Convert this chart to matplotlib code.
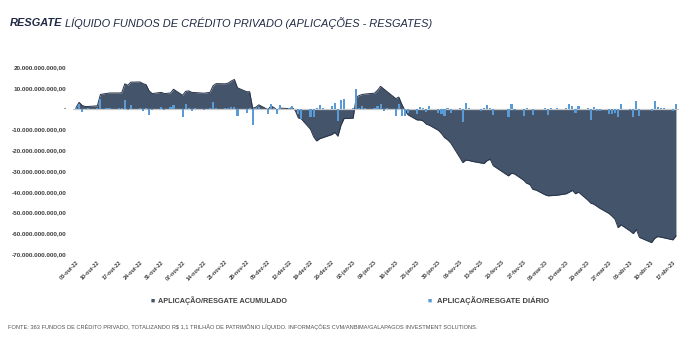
import numpy as np
import pandas as pd
import matplotlib
matplotlib.use("Agg")
import matplotlib.pyplot as plt
import matplotlib.dates as mdates
from matplotlib.ticker import FuncFormatter, MultipleLocator

# ---------------- data (values in billions of R$) ----------------
holidays = ["2022-10-12", "2022-11-02", "2022-11-15", "2023-02-20", "2023-02-21", "2023-04-07"]
dates = pd.bdate_range("2022-10-03", "2023-04-18")
dates = dates[~dates.isin(pd.to_datetime(holidays))]

cumulative_bn = [
    0.5, 3.0, 1.5, 1.0, 1.0,
    1.3, 6.8, 7.3, 7.5,
    7.5, 7.6, 11.9, 11.2, 12.7,
    12.8, 12.0, 11.5, 8.5, 7.2,
    7.8, 7.2, 7.5, 9.3,
    6.4, 8.3, 8.5, 7.8, 7.7,
    7.4, 7.8, 11.0, 12.0,
    11.9, 12.3, 13.3, 14.0, 10.0,
    8.1, 8.1, 0.2, 0.6, 1.8,
    -0.5, 1.2, 0.5, -0.8, 0.2,
    0.0, 0.5, -1.0, -4.5, -5.0,
    -10.0, -13.5, -15.6, -14.5, -14.0,
    -12.5, -11.5, -13.3, -8.0, -4.8,
    -4.6, 5.5, 6.3, 6.8, 7.0,
    7.4, 8.8, 10.7, 9.5, 8.3,
    4.8, 5.5, 2.0, -1.0, -3.0,
    -5.5, -5.5, -6.0, -7.5, -8.0,
    -10.5, -12.0, -14.0, -15.0, -16.5,
    -23.5, -26.0, -24.8, -25.0, -25.4,
    -26.2, -26.4, -25.0, -24.4, -27.5,
    -32.4, -31.1, -31.5,
    -34.5, -36.0, -36.5, -38.9, -39.2,
    -41.5, -42.0, -41.9, -41.8, -41.7,
    -41.0, -40.2, -39.4, -41.0, -40.2,
    -44.0, -45.5, -46.0, -47.0, -48.0,
    -50.5, -51.8, -53.3, -57.3, -56.0,
    -59.0, -60.2, -58.2, -62.0,
    -64.5, -62.5, -61.6, -61.9, -62.2,
    -63.2, -61.3,
]

daily_bn = [
    0.5, 2.4, -1.6, -0.3, 0.1,
    0.3, 4.8, 0.5, 0.2,
    0.2, 0.3, 4.3, -0.8, 1.6,
    0.2, -1.1, 0.3, -3.2, -0.5,
    0.8, -0.8, 0.8, 1.6,
    -4.0, 2.1, 0.3, -1.1, 0.2,
    -0.5, 0.5, 3.2, 0.3,
    0.3, 0.2, 0.8, 0.8, -3.7,
    -1.9, 0.2, -8.0, 0.3, 0.8,
    -2.4, 2.4, 0.2, -2.7, 1.8,
    0.3, 1.3, -0.3, -2.7, -4.8,
    -4.3, -4.3, 0.2, 1.8, 0.5,
    1.3, 2.6, -5.9, 4.2, 4.5,
    0.2, 9.6, 0.5, 1.3, 0.3,
    0.2, 1.3, 2.4, -1.4, 0.5,
    -3.8, 2.0, -3.5, -3.5, -2.2,
    -2.4, 0.8, 0.3, -1.6, 1.0,
    -1.9, -2.7, -3.5, 0.5, -1.9,
    0.5, -6.4, 2.9, 0.2, -0.3,
    -1.1, 0.2, 1.9, 0.5, -2.9,
    -4.3, 2.1, -0.8,
    -3.5, 0.2, -0.3, -3.0, -0.2,
    0.2, -3.0, 0.5, -0.2, 0.2,
    0.4, 2.1, 1.0, -1.9, 1.0,
    0.4, -5.6, 0.8, -1.3, -1.1,
    -2.4, -2.7, -1.9, -4.0, 2.1,
    -0.5, -4.3, 3.7, -3.5,
    -1.4, 3.4, 0.8, 0.3, 0.3,
    -1.1, 2.4,
]

months_pt = ["jan", "fev", "mar", "abr", "mai", "jun", "jul", "ago", "set", "out", "nov", "dez"]
tick_dates = pd.date_range("2022-10-03", "2023-04-17", freq="7D")
tick_labels = [f"{d.day:02d}-{months_pt[d.month-1]}-{d.strftime('%y')}" for d in tick_dates]

title_bold = "RESGATE"
title_rest = " LÍQUIDO FUNDOS DE CRÉDITO PRIVADO (APLICAÇÕES - RESGATES)"
legend_cum = "APLICAÇÃO/RESGATE ACUMULADO"
legend_daily = "APLICAÇÃO/RESGATE DIÁRIO"
footer = ("FONTE: 363 FUNDOS DE CRÉDITO PRIVADO, TOTALIZANDO R$ 1,1 TRILHÃO DE PATRIMÔNIO LÍQUIDO. "
          "INFORMAÇÕES CVM/ANBIMA/GALAPAGOS INVESTMENT SOLUTIONS.")

# ---------------- styling ----------------
plt.rcParams["font.family"] = ["Liberation Sans", "DejaVu Sans"]
AREA = "#44546a"
EDGE = "#263247"
BAR = "#5b9bd5"
TXT = "#404040"
NAVY = "#1f2a44"

W, H = 700, 350
fig = plt.figure(figsize=(7, 3.5), dpi=100)
fig.patch.set_facecolor("white")

ax = fig.add_axes([73 / W, 1 - 254 / H, 606 / W, (254 - 67) / H])

cum = np.array(cumulative_bn) * 1e9
dly = np.array(daily_bn) * 1e9
x = dates.to_pydatetime()

ax.fill_between(x, cum, 0, color=AREA, lw=0, zorder=1)
ax.plot(x, cum, color=EDGE, lw=0.7, zorder=2)
ax.axhline(0, color="#c8c8c8", lw=0.9, zorder=3)
ax.bar(x, dly, width=0.7, color=BAR, zorder=4)

ax.set_xlim(pd.Timestamp("2022-10-02"), pd.Timestamp("2023-04-19"))
ax.set_ylim(-70e9, 20e9)
ax.yaxis.set_major_locator(MultipleLocator(10e9))


def br_fmt(v, pos):
    if abs(v) < 1:
        return "-"
    s = f"{v:,.2f}"
    return s.replace(",", "X").replace(".", ",").replace("X", ".")


ax.yaxis.set_major_formatter(FuncFormatter(br_fmt))
ax.set_xticks(tick_dates.to_pydatetime())
ax.set_xticklabels(tick_labels, rotation=45, ha="right", rotation_mode="anchor")

for s in ax.spines.values():
    s.set_visible(False)
ax.tick_params(axis="both", length=0)
ax.tick_params(axis="y", pad=5, labelsize=4.6, labelcolor=TXT)
ax.tick_params(axis="x", pad=4, labelsize=4.0, labelcolor=TXT)
for lab in ax.get_yticklabels() + ax.get_xticklabels():
    lab.set_fontweight("bold")

# ---------------- texts ----------------
renderer = fig.canvas.get_renderer()


def fit(t, target_px):
    bb = t.get_window_extent(renderer)
    t.set_fontsize(t.get_fontsize() * target_px / bb.width)


t1 = fig.text(10 / W, 1 - 23 / H, title_bold, fontsize=9, fontweight="bold", style="italic",
              color=NAVY, va="center", ha="left")
t2 = fig.text(10 / W, 1 - 23 / H, title_rest, fontsize=9, style="italic",
              color=NAVY, va="center", ha="left")
w1 = t1.get_window_extent(renderer).width
w2 = t2.get_window_extent(renderer).width
scale = 423 / (w1 + w2)
t1.set_fontsize(9 * scale)
t2.set_fontsize(9 * scale)
w1 = t1.get_window_extent(renderer).width
t2.set_x((10 + w1) / W)

# legends
fig.text(151 / W, 1 - 301 / H, "■", fontsize=5, color=AREA, va="center", ha="left")
lc = fig.text(158 / W, 1 - 301 / H, legend_cum, fontsize=5, fontweight="bold", color=TXT,
              va="center", ha="left")
fit(lc, 130)
fig.text(428 / W, 1 - 301 / H, "■", fontsize=5, color=BAR, va="center", ha="left")
ld = fig.text(437 / W, 1 - 301 / H, legend_daily, fontsize=5, fontweight="bold", color=TXT,
              va="center", ha="left")
fit(ld, 113)

ft = fig.text(8 / W, 1 - 327 / H, footer, fontsize=4.5, color="#505050", va="center", ha="left")
fit(ft, 467)

fig.savefig("out.png", dpi=100, facecolor="white")
